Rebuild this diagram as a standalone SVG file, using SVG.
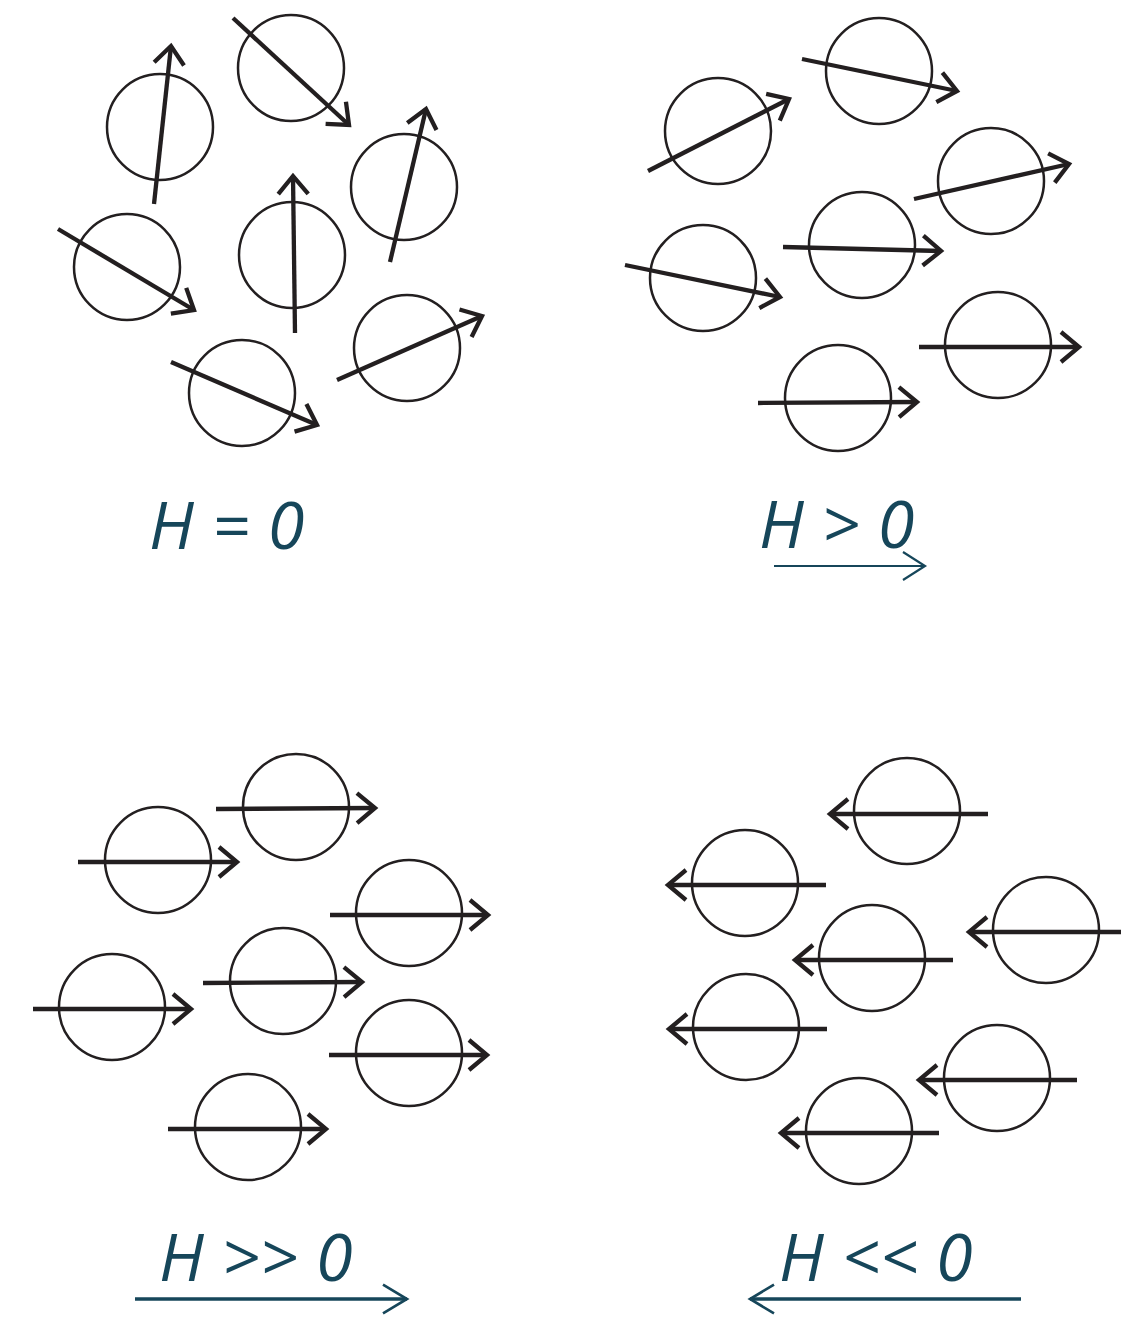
<svg xmlns="http://www.w3.org/2000/svg" width="1121" height="1317" viewBox="0 0 1121 1317">
<style>
.c{fill:none;stroke:#231f20;stroke-width:2.5}
.a{fill:none;stroke:#231f20;stroke-width:4.3;marker-end:url(#ah)}
.t{font-family:"Open Sans","Noto Sans",sans-serif;font-style:italic;font-size:66px;letter-spacing:0.5px;fill:#16465a}
.u1{fill:none;stroke:#16465a;stroke-width:2.2;marker-end:url(#ah1)}
.u2{fill:none;stroke:#16465a;stroke-width:3.3;marker-end:url(#ah2)}
</style>
<defs>
<marker id="ah" markerUnits="userSpaceOnUse" orient="auto" refX="0" refY="0" markerWidth="40" markerHeight="40" viewBox="-30 -20 40 40" overflow="visible">
<path d="M-18,-15 L0,0 L-18,15" fill="none" stroke="#231f20" stroke-width="4.3"/>
</marker>
<marker id="ah1" markerUnits="userSpaceOnUse" orient="auto" refX="0" refY="0" markerWidth="40" markerHeight="40" viewBox="-30 -20 40 40" overflow="visible">
<path d="M-22,-14 L0,0 L-22,14" fill="none" stroke="#16465a" stroke-width="2.2"/>
</marker>
<marker id="ah2" markerUnits="userSpaceOnUse" orient="auto" refX="0" refY="0" markerWidth="40" markerHeight="40" viewBox="-35 -25 45 50" overflow="visible">
<path d="M-30,-18 L0,0 L-30,18" fill="none" stroke="#16465a" stroke-width="3.3"/>
</marker>
</defs>
<rect width="1121" height="1317" fill="#fff"/>
<g id="panel-h0">
<g id="n1"><circle class="c" cx="160" cy="127" r="53"/></g>
<g id="n2"><circle class="c" cx="291" cy="68" r="53"/></g>
<g id="n3"><circle class="c" cx="404" cy="187" r="53"/></g>
<g id="n4"><circle class="c" cx="127" cy="267" r="53"/></g>
<g id="n5"><circle class="c" cx="292" cy="255" r="53"/></g>
<g id="n6"><circle class="c" cx="407" cy="348" r="53"/></g>
<g id="n7"><circle class="c" cx="242" cy="393" r="53"/></g>
</g>
<g id="panel-hgt">
<g id="m1"><circle class="c" cx="718" cy="131" r="53"/></g>
<g id="m2"><circle class="c" cx="879" cy="71" r="53"/></g>
<g id="m3"><circle class="c" cx="991" cy="181" r="53"/></g>
<g id="m4"><circle class="c" cx="862" cy="245" r="53"/></g>
<g id="m5"><circle class="c" cx="703" cy="278" r="53"/></g>
<g id="m6"><circle class="c" cx="998" cy="345" r="53"/></g>
<g id="m7"><circle class="c" cx="838" cy="398" r="53"/></g>
</g>
<g id="panel-hgg">
<g id="p1"><circle class="c" cx="296" cy="807" r="53"/></g>
<g id="p2"><circle class="c" cx="158" cy="860" r="53"/></g>
<g id="p3"><circle class="c" cx="409" cy="913" r="53"/></g>
<g id="p4"><circle class="c" cx="283" cy="981" r="53"/></g>
<g id="p5"><circle class="c" cx="112" cy="1007" r="53"/></g>
<g id="p6"><circle class="c" cx="409" cy="1053" r="53"/></g>
<g id="p7"><circle class="c" cx="248" cy="1127" r="53"/></g>
</g>
<g id="panel-hll">
<g id="q1"><circle class="c" cx="907" cy="811" r="53"/></g>
<g id="q2"><circle class="c" cx="745" cy="883" r="53"/></g>
<g id="q3"><circle class="c" cx="1046" cy="930" r="53"/></g>
<g id="q4"><circle class="c" cx="872" cy="958" r="53"/></g>
<g id="q5"><circle class="c" cx="746" cy="1027" r="53"/></g>
<g id="q6"><circle class="c" cx="997" cy="1078" r="53"/></g>
<g id="q7"><circle class="c" cx="859" cy="1131" r="53"/></g>
</g>
<g id="connectors">
<line class="a" x1="154" y1="204" x2="171" y2="46"/>
<line class="a" x1="233" y1="18" x2="349" y2="125"/>
<line class="a" x1="390" y1="262" x2="426" y2="109"/>
<line class="a" x1="58" y1="229" x2="194" y2="310"/>
<line class="a" x1="295" y1="333" x2="293" y2="176"/>
<line class="a" x1="337" y1="380" x2="482" y2="316"/>
<line class="a" x1="171" y1="362" x2="317" y2="425"/>
<line class="a" x1="648" y1="171" x2="789" y2="99"/>
<line class="a" x1="802" y1="59" x2="957" y2="91"/>
<line class="a" x1="914" y1="199" x2="1069" y2="164"/>
<line class="a" x1="783" y1="247" x2="941" y2="251"/>
<line class="a" x1="625" y1="265" x2="780" y2="297"/>
<line class="a" x1="919" y1="347" x2="1079" y2="347"/>
<line class="a" x1="758" y1="403" x2="917" y2="402"/>
<line class="a" x1="216" y1="809" x2="375" y2="808"/>
<line class="a" x1="78" y1="862" x2="237" y2="862"/>
<line class="a" x1="330" y1="915" x2="488" y2="915"/>
<line class="a" x1="203" y1="983" x2="362" y2="982"/>
<line class="a" x1="33" y1="1009" x2="191" y2="1009"/>
<line class="a" x1="329" y1="1055" x2="487" y2="1055"/>
<line class="a" x1="168" y1="1129" x2="326" y2="1129"/>
<line class="a" x1="988" y1="814" x2="830" y2="814"/>
<line class="a" x1="826" y1="885" x2="668" y2="885"/>
<line class="a" x1="1121" y1="932" x2="969" y2="932"/>
<line class="a" x1="953" y1="960" x2="795" y2="960"/>
<line class="a" x1="827" y1="1029" x2="669" y2="1029"/>
<line class="a" x1="1077" y1="1080" x2="919" y2="1080"/>
<line class="a" x1="939" y1="1133" x2="781" y2="1133"/>
<line class="u1" x1="774" y1="566" x2="925" y2="566"/>
<line class="u2" x1="135" y1="1299" x2="407" y2="1299"/>
<line class="u2" x1="1021" y1="1299" x2="750" y2="1299"/>
</g>
<g id="labels">
<text class="t" x="149" y="549">H = 0</text>
<text class="t" x="759" y="548">H &gt; 0</text>
<text class="t" x="159" y="1281">H &gt;&gt; 0</text>
<text class="t" x="779" y="1281">H &lt;&lt; 0</text>
</g>
</svg>
